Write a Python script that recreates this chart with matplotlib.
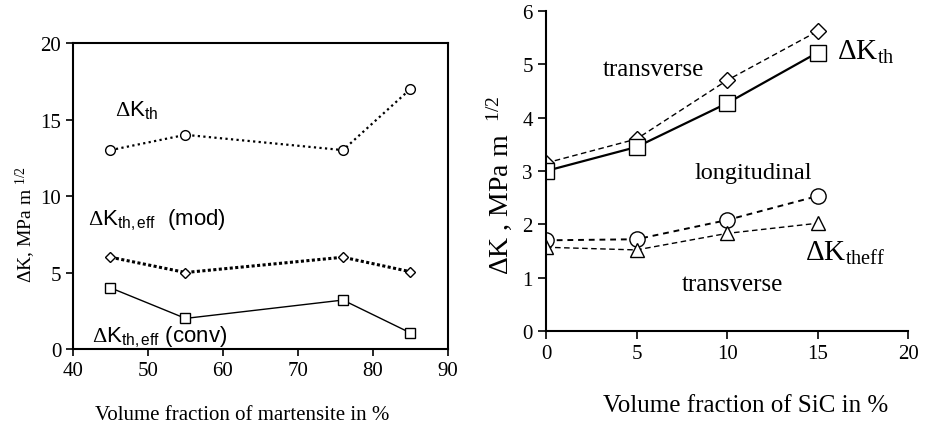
import matplotlib
matplotlib.use('Agg')
import matplotlib.pyplot as plt

plt.rcParams['font.family'] = 'Liberation Serif'
plt.rcParams['mathtext.fontset'] = 'custom'
plt.rcParams['mathtext.rm'] = 'Liberation Serif'
plt.rcParams['mathtext.it'] = 'Liberation Serif:italic'
plt.rcParams['mathtext.sf'] = 'Liberation Sans'

# dual-phase steel: threshold vs martensite content
mart = [45, 55, 76, 85]
kth_mart = [13, 14, 13, 17]
kth_eff_mod = [6, 5, 6, 5.05]
kth_eff_conv = [4, 2, 3.2, 1.05]

# Al/SiC composite: threshold vs SiC content
sic = [0, 5, 10, 15]
kth_trans = [3.15, 3.6, 4.7, 5.62]
kth_long = [3.0, 3.45, 4.27, 5.22]
keff_long = [1.7, 1.72, 2.08, 2.53]
keff_trans = [1.57, 1.52, 1.83, 2.02]

fig = plt.figure(figsize=(9.25, 4.27), dpi=100)
ax1 = fig.add_axes([0.0789, 0.1803, 0.4054, 0.7166])
ax2 = fig.add_axes([0.5903, 0.2225, 0.3914, 0.7494])

# left panel
mk = dict(mfc='white', mec='black', color='black')
ax1.plot(mart, kth_mart, marker='o', ms=7, ls=(0, (1, 1.5)), lw=1.6, **mk)
ax1.plot(mart, kth_eff_mod, marker='D', ms=5.5, ls=(0, (1, 0.8)), lw=2.2, **mk)
ax1.plot(mart, kth_eff_conv, marker='s', ms=7.5, ls='-', lw=1.0, **mk)
ax1.set_xlim(40, 90)
ax1.set_ylim(0, 20)
ax1.set_xticks([40, 50, 60, 70, 80, 90])
ax1.set_yticks([0, 5, 10, 15, 20])
ax1.tick_params(direction='out', labelsize=15, length=5, width=1.2)
for s in ax1.spines.values():
    s.set_linewidth(1.5)
ax1.set_xlabel('Volume fraction of martensite in %', fontsize=15,
               labelpad=18, x=0.45)
ax1.set_ylabel(r'$\Delta$K, MPa m $^{1/2}$', fontsize=14, labelpad=2, y=0.41)
sans = dict(family='Liberation Sans', fontsize=16, va='center')
ax1.text(45.6, 15.7, r'$\Delta\mathsf{K}_{\mathsf{th}}$', **sans)
ax1.text(42.0, 8.5, r'$\Delta\mathsf{K}_{\mathsf{th,eff}}$  (mod)', **sans)
ax1.text(42.5, 0.85, r'$\Delta\mathsf{K}_{\mathsf{th,eff}}$ (conv)', **sans)

# right panel
ax2.plot(sic, kth_trans, marker='D', ms=8, ls=(0, (4, 2.5)), lw=1.0, **mk)
ax2.plot(sic, kth_long, marker='s', ms=11, ls='-', lw=1.6, **mk)
ax2.plot(sic, keff_long, marker='o', ms=11, ls=(0, (3, 2.5)), lw=1.4, **mk)
ax2.plot(sic, keff_trans, marker='^', ms=10, ls=(0, (4, 2.5)), lw=1.0, **mk)
ax2.set_xlim(0, 20)
ax2.set_ylim(0, 6)
ax2.set_xticks([0, 5, 10, 15, 20])
ax2.set_yticks(range(7))
ax2.spines['top'].set_visible(False)
ax2.spines['right'].set_visible(False)
for s in ('left', 'bottom'):
    ax2.spines[s].set_linewidth(1.5)
ax2.tick_params(direction='out', labelsize=15, length=6, width=1.2)
ax2.set_xlabel('Volume fraction of SiC in %', fontsize=18, labelpad=22, x=0.55)
ax2.set_ylabel(r'$\Delta$K , MPa m  $^{1/2}$', fontsize=20, labelpad=6, y=0.46)
ax2.text(3.15, 4.91, 'transverse', fontsize=18, va='center')
ax2.text(8.2, 2.98, 'longitudinal', fontsize=17.5, va='center')
ax2.text(7.5, 0.88, 'transverse', fontsize=18, va='center')
ax2.text(16.1, 5.25, r'$\Delta$K$_{\mathrm{th}}$', fontsize=21, va='center')
ax2.text(14.3, 1.48, r'$\Delta$K$_{\mathrm{theff}}$', fontsize=21, va='center')

fig.savefig('out.png', dpi=100)
